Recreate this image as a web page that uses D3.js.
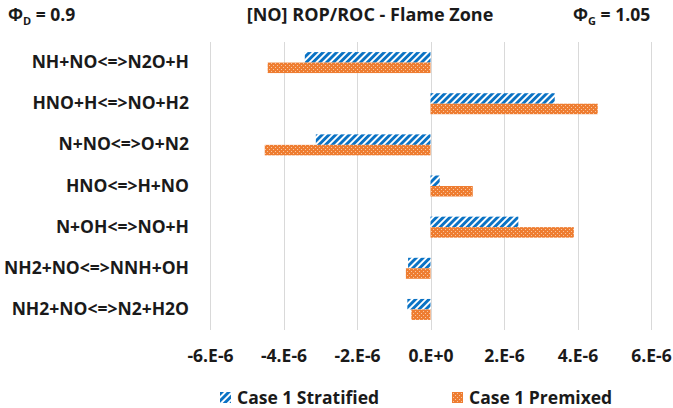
<!DOCTYPE html>
<html>
<head>
<meta charset="utf-8">
<script src="https://cdn.jsdelivr.net/npm/d3@7"></script>
<style>
  html, body { margin: 0; padding: 0; background: #fff; }
  svg { display: block; font-family: "Open Sans", "Noto Sans", sans-serif; }
</style>
</head>
<body>
<svg id="chart" width="673" height="408"></svg>
<script>
// Reactions contributing to NO production/consumption in the flame zone
const reactions = [
  "NH+NO<=>N2O+H",
  "HNO+H<=>NO+H2",
  "N+NO<=>O+N2",
  "HNO<=>H+NO",
  "N+OH<=>NO+H",
  "NH2+NO<=>NNH+OH",
  "NH2+NO<=>N2+H2O"
];
const seriesNames = ["Case 1 Stratified", "Case 1 Premixed"];
const stratified = [-3.42e-6, 3.38e-6, -3.12e-6, 0.25e-6, 2.39e-6, -0.61e-6, -0.63e-6];
const premixed   = [-4.43e-6, 4.55e-6, -4.51e-6, 1.15e-6, 3.90e-6, -0.67e-6, -0.52e-6];
const tickValues = [-6e-6, -4e-6, -2e-6, 0, 2e-6, 4e-6, 6e-6];
const tickLabels = ["-6.E-6", "-4.E-6", "-2.E-6", "0.E+0", "2.E-6", "4.E-6", "6.E-6"];

const FONT = "'Open Sans', 'Noto Sans', sans-serif";
const TEXT = "#1a1a1a";

const svg = d3.select("#chart");
const plot = { left: 210, right: 651, top: 42, bottom: 330 };

// Fill patterns: blue upward diagonal hatch and orange dotted fill
const defs = svg.append("defs");
const hatch = defs.append("pattern")
  .attr("id", "hatchBlue")
  .attr("patternUnits", "userSpaceOnUse")
  .attr("width", 4.8).attr("height", 4.8)
  .attr("patternTransform", "rotate(45)");
hatch.append("rect").attr("width", 4.8).attr("height", 4.8).attr("fill", "#ffffff");
hatch.append("rect").attr("width", 2.9).attr("height", 4.8).attr("fill", "#0a72c4");

const dots = defs.append("pattern")
  .attr("id", "dotOrange")
  .attr("patternUnits", "userSpaceOnUse")
  .attr("width", 4).attr("height", 4);
dots.append("rect").attr("width", 4).attr("height", 4).attr("fill", "#ee7d31");
dots.append("rect").attr("x", 1).attr("y", 1).attr("width", 1).attr("height", 1).attr("fill", "#f8c6a2");
dots.append("rect").attr("x", 3).attr("y", 3).attr("width", 1).attr("height", 1).attr("fill", "#f8c6a2");

const fills = ["url(#hatchBlue)", "url(#dotOrange)"];

const x = d3.scaleLinear().domain([-6e-6, 6e-6]).range([plot.left, plot.right]);
const y = d3.scaleBand().domain(reactions).range([plot.top, plot.bottom])
  .paddingInner(0.49).paddingOuter(0.245);
const ySub = d3.scaleBand().domain(seriesNames).range([0, y.bandwidth()]).padding(0);

// Vertical gridlines
svg.append("g").selectAll("line")
  .data(tickValues)
  .join("line")
  .attr("x1", d => Math.round(x(d)) + 0.5)
  .attr("x2", d => Math.round(x(d)) + 0.5)
  .attr("y1", plot.top)
  .attr("y2", plot.bottom)
  .attr("stroke", "#d9d9d9")
  .attr("stroke-width", 1);

// Bars
const rows = reactions.map((r, i) => [
  { reaction: r, series: seriesNames[0], value: stratified[i], fill: fills[0] },
  { reaction: r, series: seriesNames[1], value: premixed[i], fill: fills[1] }
]).flat();

svg.append("g").selectAll("rect")
  .data(rows)
  .join("rect")
  .attr("x", d => Math.min(x(0), x(d.value)))
  .attr("width", d => Math.abs(x(d.value) - x(0)))
  .attr("y", d => y(d.reaction) + ySub(d.series))
  .attr("height", ySub.bandwidth())
  .attr("fill", d => d.fill);

// Category labels
const yAxis = d3.axisLeft(y).tickSize(0).tickPadding(0);
const yg = svg.append("g")
  .attr("transform", `translate(${plot.left - 21},0)`)
  .call(yAxis);
yg.select(".domain").remove();
yg.selectAll("text")
  .attr("font-family", FONT)
  .attr("font-size", 17.5)
  .attr("font-weight", "bold")
  .attr("fill", TEXT);

// Value axis labels
const xAxis = d3.axisBottom(x).tickValues(tickValues)
  .tickFormat((d, i) => tickLabels[i]).tickSize(0).tickPadding(0);
const xg = svg.append("g")
  .attr("transform", `translate(0,${plot.bottom + 20})`)
  .call(xAxis);
xg.select(".domain").remove();
xg.selectAll("text")
  .attr("font-family", FONT)
  .attr("font-size", 17.5)
  .attr("font-weight", "bold")
  .attr("fill", TEXT);

// Header texts
const header = svg.append("g")
  .attr("font-family", FONT)
  .attr("font-size", 17.5)
  .attr("font-weight", "bold")
  .attr("fill", TEXT);

header.append("text")
  .attr("x", 370).attr("y", 21)
  .attr("font-size", 18)
  .attr("text-anchor", "middle")
  .text("[NO] ROP/ROC - Flame Zone");

const phiD = header.append("text").attr("x", 8).attr("y", 21);
phiD.append("tspan").text("Φ");
phiD.append("tspan").attr("font-size", 11).attr("dy", 4).text("D");
phiD.append("tspan").attr("dy", -4).text(" = 0.9");

const phiG = header.append("text").attr("x", 573).attr("y", 21);
phiG.append("tspan").text("Φ");
phiG.append("tspan").attr("font-size", 11).attr("dy", 4).text("G");
phiG.append("tspan").attr("dy", -4).text(" = 1.05");

// Legend
const legendX = [220, 452];
const legend = svg.append("g").selectAll("g")
  .data(seriesNames)
  .join("g")
  .attr("transform", (d, i) => `translate(${legendX[i]},392)`);
legend.append("rect")
  .attr("width", 11).attr("height", 11)
  .attr("fill", (d, i) => fills[i]);
legend.append("text")
  .attr("x", 17).attr("y", 11.5)
  .attr("font-family", FONT)
  .attr("font-size", 17.5)
  .attr("font-weight", "bold")
  .attr("fill", TEXT)
  .text(d => d);
</script>
</body>
</html>
